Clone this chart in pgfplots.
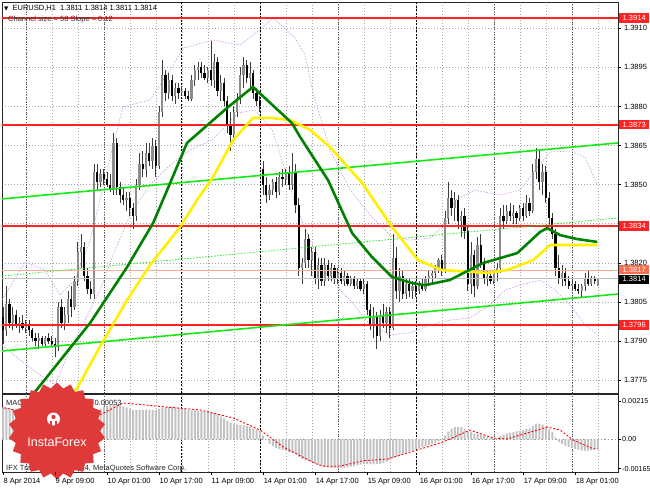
\documentclass[border=0pt]{standalone}
\usepackage{fontspec}
\setmainfont{Liberation Sans}
\newfontfamily\dejavu{DejaVu Sans}
\usepackage{pgfplots}
\usepackage{pgfplotstable}
\pgfplotsset{compat=1.18}
\usetikzlibrary{shapes.geometric}

\definecolor{mtred}{RGB}{255,35,35}
\definecolor{salmonline}{RGB}{250,175,150}
\definecolor{salmonbox}{RGB}{245,110,80}
\definecolor{tlime}{RGB}{20,235,20}
\definecolor{mag}{RGB}{0,130,0}
\definecolor{mayellow}{RGB}{255,240,0}
\definecolor{bandcol}{RGB}{205,150,235}
\definecolor{histgray}{RGB}{195,195,195}
\definecolor{instared}{RGB}{222,58,58}
\definecolor{wick}{RGB}{60,60,60}
\definecolor{bullbody}{RGB}{140,140,140}

\newcommand{\lab}{\fontsize{7.5pt}{8pt}\selectfont}

\pgfplotstableread{
idx op hi lo cl macd
0 1.3799 1.3803 1.3789 1.3794 0.00180
1 1.3794 1.3811 1.3792 1.3804 0.00178
2 1.3804 1.3806 1.3795 1.3797 0.00175
3 1.3797 1.3803 1.3794 1.3800 0.00170
4 1.3800 1.3802 1.3795 1.3796 0.00165
5 1.3796 1.3799 1.3793 1.3797 0.00160
6 1.3797 1.3800 1.3794 1.3795 0.00154
7 1.3795 1.3798 1.3793 1.3796 0.00148
8 1.3796 1.3798 1.3792 1.3794 0.00142
9 1.3794 1.3795 1.3790 1.3791 0.00135
10 1.3791 1.3793 1.3788 1.3790 0.00128
11 1.3790 1.3793 1.3787 1.3791 0.00121
12 1.3791 1.3792 1.3788 1.3789 0.00114
13 1.3789 1.3792 1.3788 1.3791 0.00108
14 1.3791 1.3793 1.3789 1.3790 0.00102
15 1.3790 1.3792 1.3788 1.3789 0.00096
16 1.3789 1.3791 1.3784 1.3788 0.00090
17 1.3788 1.3805 1.3786 1.3803 0.00092
18 1.3803 1.3806 1.3795 1.3797 0.00094
19 1.3797 1.3803 1.3794 1.3800 0.00096
20 1.3800 1.3809 1.3797 1.3806 0.00100
21 1.3806 1.3811 1.3799 1.3803 0.00104
22 1.3803 1.3815 1.3802 1.3813 0.00112
23 1.3813 1.3828 1.3811 1.3824 0.00120
24 1.3824 1.3831 1.3818 1.3826 0.00126
25 1.3826 1.3828 1.3813 1.3815 0.00128
26 1.3815 1.3818 1.3808 1.3810 0.00128
27 1.3810 1.3813 1.3806 1.3808 0.00126
28 1.3808 1.3858 1.3806 1.3855 0.00145
29 1.3855 1.3858 1.3848 1.3851 0.00160
30 1.3851 1.3856 1.3849 1.3854 0.00172
31 1.3854 1.3856 1.3850 1.3852 0.00182
32 1.3852 1.3855 1.3849 1.3850 0.00188
33 1.3850 1.3854 1.3847 1.3848 0.00190
34 1.3848 1.3870 1.3846 1.3866 0.00196
35 1.3866 1.3868 1.3846 1.3849 0.00194
36 1.3849 1.3851 1.3843 1.3846 0.00190
37 1.3846 1.3849 1.3842 1.3844 0.00184
38 1.3844 1.3847 1.3840 1.3845 0.00178
39 1.3845 1.3847 1.3838 1.3841 0.00172
40 1.3841 1.3843 1.3833 1.3838 0.00166
41 1.3838 1.3852 1.3836 1.3850 0.00164
42 1.3850 1.3862 1.3848 1.3858 0.00164
43 1.3858 1.3863 1.3853 1.3856 0.00165
44 1.3856 1.3866 1.3853 1.3862 0.00167
45 1.3862 1.3866 1.3857 1.3859 0.00166
46 1.3859 1.3868 1.3856 1.3865 0.00166
47 1.3865 1.3867 1.3853 1.3857 0.00164
48 1.3857 1.3880 1.3856 1.3878 0.00170
49 1.3878 1.3898 1.3876 1.3892 0.00178
50 1.3892 1.3894 1.3882 1.3885 0.00182
51 1.3885 1.3893 1.3883 1.3890 0.00183
52 1.3890 1.3892 1.3882 1.3884 0.00182
53 1.3884 1.3889 1.3881 1.3887 0.00180
54 1.3887 1.3889 1.3883 1.3885 0.00177
55 1.3885 1.3888 1.3884 1.3886 0.00174
56 1.3886 1.3887 1.3883 1.3884 0.00170
57 1.3884 1.3886 1.3882 1.3883 0.00165
58 1.3883 1.3892 1.3882 1.3890 0.00163
59 1.3890 1.3896 1.3888 1.3894 0.00162
60 1.3894 1.3897 1.3890 1.3895 0.00161
61 1.3895 1.3897 1.3891 1.3893 0.00159
62 1.3893 1.3896 1.3890 1.3891 0.00156
63 1.3891 1.3895 1.3889 1.3894 0.00153
64 1.3894 1.3905 1.3888 1.3890 0.00150
65 1.3890 1.3900 1.3887 1.3897 0.00146
66 1.3897 1.3899 1.3884 1.3886 0.00138
67 1.3886 1.3892 1.3882 1.3889 0.00128
68 1.3889 1.3891 1.3880 1.3882 0.00118
69 1.3882 1.3884 1.3870 1.3873 0.00104
70 1.3873 1.3878 1.3863 1.3869 0.00092
71 1.3869 1.3880 1.3867 1.3878 0.00086
72 1.3878 1.3885 1.3876 1.3883 0.00082
73 1.3883 1.3895 1.3881 1.3892 0.00080
74 1.3892 1.3899 1.3887 1.3896 0.00078
75 1.3896 1.3898 1.3889 1.3891 0.00074
76 1.3891 1.3897 1.3887 1.3893 0.00068
77 1.3893 1.3894 1.3883 1.3885 0.00062
78 1.3885 1.3887 1.3880 1.3882 0.00056
79 1.3882 1.3884 1.3878 1.3880 0.00050
80 1.3856 1.3859 1.3846 1.3850 0.00020
81 1.3850 1.3853 1.3843 1.3846 -0.00005
82 1.3846 1.3850 1.3844 1.3848 -0.00025
83 1.3848 1.3852 1.3846 1.3851 -0.00038
84 1.3851 1.3853 1.3845 1.3847 -0.00048
85 1.3847 1.3855 1.3846 1.3853 -0.00055
86 1.3853 1.3856 1.3849 1.3852 -0.00060
87 1.3852 1.3856 1.3850 1.3855 -0.00066
88 1.3855 1.3857 1.3848 1.3850 -0.00072
89 1.3850 1.3862 1.3848 1.3855 -0.00076
90 1.3855 1.3858 1.3839 1.3842 -0.00085
91 1.3842 1.3845 1.3815 1.3818 -0.00098
92 1.3818 1.3822 1.3812 1.3820 -0.00110
93 1.3820 1.3833 1.3818 1.3829 -0.00118
94 1.3829 1.3831 1.3818 1.3821 -0.00124
95 1.3821 1.3826 1.3815 1.3824 -0.00130
96 1.3824 1.3826 1.3812 1.3814 -0.00136
97 1.3814 1.3822 1.3810 1.3819 -0.00142
98 1.3819 1.3822 1.3811 1.3813 -0.00148
99 1.3813 1.3822 1.3811 1.3819 -0.00153
100 1.3819 1.3821 1.3813 1.3815 -0.00157
101 1.3815 1.3820 1.3813 1.3818 -0.00160
102 1.3818 1.3819 1.3812 1.3814 -0.00162
103 1.3814 1.3818 1.3812 1.3816 -0.00162
104 1.3816 1.3818 1.3812 1.3813 -0.00161
105 1.3813 1.3817 1.3811 1.3815 -0.00159
106 1.3815 1.3816 1.3811 1.3812 -0.00157
107 1.3812 1.3815 1.3811 1.3814 -0.00154
108 1.3814 1.3815 1.3810 1.3811 -0.00150
109 1.3811 1.3814 1.3810 1.3813 -0.00146
110 1.3813 1.3814 1.3809 1.3810 -0.00142
111 1.3810 1.3814 1.3808 1.3812 -0.00138
112 1.3812 1.3813 1.3800 1.3802 -0.00138
113 1.3802 1.3804 1.3794 1.3796 -0.00140
114 1.3796 1.3803 1.3791 1.3799 -0.00141
115 1.3799 1.3801 1.3787 1.3792 -0.00140
116 1.3792 1.3802 1.3790 1.3800 -0.00137
117 1.3800 1.3804 1.3795 1.3797 -0.00132
118 1.3797 1.3803 1.3793 1.3801 -0.00126
119 1.3801 1.3803 1.3791 1.3795 -0.00118
120 1.3795 1.3831 1.3794 1.3822 -0.00106
121 1.3822 1.3826 1.3806 1.3809 -0.00098
122 1.3809 1.3818 1.3805 1.3815 -0.00090
123 1.3815 1.3817 1.3806 1.3808 -0.00082
124 1.3808 1.3814 1.3806 1.3812 -0.00074
125 1.3812 1.3814 1.3807 1.3809 -0.00068
126 1.3809 1.3813 1.3806 1.3811 -0.00062
127 1.3811 1.3813 1.3807 1.3809 -0.00056
128 1.3809 1.3813 1.3808 1.3812 -0.00050
129 1.3812 1.3814 1.3809 1.3810 -0.00044
130 1.3810 1.3815 1.3809 1.3814 -0.00038
131 1.3814 1.3817 1.3811 1.3815 -0.00032
132 1.3815 1.3817 1.3812 1.3816 -0.00026
133 1.3816 1.3819 1.3814 1.3818 -0.00020
134 1.3818 1.3822 1.3816 1.3821 -0.00012
135 1.3821 1.3823 1.3815 1.3817 -0.00006
136 1.3817 1.3840 1.3816 1.3837 0.00020
137 1.3837 1.3851 1.3835 1.3845 0.00045
138 1.3845 1.3848 1.3838 1.3841 0.00060
139 1.3841 1.3847 1.3836 1.3844 0.00068
140 1.3844 1.3846 1.3833 1.3836 0.00070
141 1.3836 1.3840 1.3830 1.3838 0.00068
142 1.3838 1.3841 1.3829 1.3832 0.00060
143 1.3832 1.3834 1.3809 1.3812 0.00045
144 1.3812 1.3828 1.3808 1.3823 0.00040
145 1.3823 1.3825 1.3807 1.3811 0.00032
146 1.3811 1.3830 1.3810 1.3827 0.00030
147 1.3827 1.3831 1.3818 1.3820 0.00026
148 1.3820 1.3822 1.3812 1.3814 0.00020
149 1.3814 1.3817 1.3811 1.3815 0.00014
150 1.3815 1.3817 1.3812 1.3813 0.00008
151 1.3813 1.3817 1.3812 1.3816 0.00004
152 1.3816 1.3820 1.3813 1.3818 0.00002
153 1.3818 1.3841 1.3816 1.3838 0.00018
154 1.3838 1.3842 1.3833 1.3836 0.00026
155 1.3836 1.3842 1.3835 1.3840 0.00032
156 1.3840 1.3843 1.3836 1.3838 0.00036
157 1.3838 1.3842 1.3835 1.3839 0.00040
158 1.3839 1.3840 1.3835 1.3837 0.00044
159 1.3837 1.3842 1.3836 1.3841 0.00048
160 1.3841 1.3843 1.3836 1.3838 0.00052
161 1.3838 1.3846 1.3837 1.3843 0.00058
162 1.3843 1.3845 1.3838 1.3840 0.00062
163 1.3840 1.3858 1.3839 1.3855 0.00076
164 1.3855 1.3864 1.3852 1.3860 0.00088
165 1.3860 1.3863 1.3848 1.3851 0.00086
166 1.3851 1.3858 1.3846 1.3855 0.00082
167 1.3855 1.3857 1.3843 1.3845 0.00070
168 1.3845 1.3847 1.3834 1.3837 0.00056
169 1.3837 1.3839 1.3829 1.3831 0.00040
170 1.3831 1.3833 1.3815 1.3818 0.00010
171 1.3818 1.3823 1.3812 1.3814 -0.00014
172 1.3814 1.3819 1.3811 1.3816 -0.00026
173 1.3816 1.3818 1.3811 1.3813 -0.00036
174 1.3813 1.3815 1.3810 1.3811 -0.00044
175 1.3811 1.3814 1.3809 1.3812 -0.00050
176 1.3812 1.3813 1.3809 1.3810 -0.00054
177 1.3810 1.3812 1.3808 1.3809 -0.00058
178 1.3809 1.3812 1.3807 1.3811 -0.00062
179 1.3811 1.3816 1.3809 1.3814 -0.00064
180 1.3814 1.3817 1.3811 1.3812 -0.00064
181 1.3812 1.3815 1.3811 1.3814 -0.00062
182 1.3814 1.3815 1.3812 1.3813 -0.00060
183 1.3811 1.3814 1.3811 1.3814 -0.00057
}\candles

\tikzset{pbox/.style={anchor=west, inner sep=0pt, minimum width=30pt, minimum height=9.6pt, text=white, font=\lab}}

\begin{document}
\begin{tikzpicture}
\useasboundingbox (0,0) rectangle (650pt,488pt);
\fill[white] (0,0) rectangle (650pt,488pt);

% ---------------- main price panel ----------------
\begin{axis}[
  at={(2pt,95pt)}, anchor=south west, scale only axis,
  width=616pt, height=391pt,
  xmin=-0.31, xmax=189.2, ymin=1.37700, ymax=1.39201,
  axis line style={black!85, line width=0.7pt},
  ytick={1.3775,1.3790,1.3805,1.3820,1.3835,1.3850,1.3865,1.3880,1.3895,1.3910},
  yticklabels={1.3775,1.3790,1.3805,1.3820,,1.3850,1.3865,1.3880,1.3895,1.3910},
  ytick pos=right, yticklabel pos=right, tick align=outside, major tick length=3pt,
  ytick style={black, line width=0.5pt},
  yticklabel style={font=\lab, xshift=-0.5pt},
  xtick={7,15,...,183}, xticklabels={}, xtick style={draw=none},
  grid=major,
  major grid style={black!35, dash pattern=on 1pt off 2pt, line width=0.5pt},
  extra x ticks={55,79,127}, extra x tick labels={},
  extra x tick style={grid=major, major grid style={black, dash pattern=on 2pt off 1.5pt, line width=0.6pt}, tick style={draw=none}},
  scaled y ticks=false,
  colormap={candle}{color=(black) color=(bullbody)},
  point meta min=-0.00001, point meta max=0.00001,
]
\pgfplotsinvokeforeach{7,31,103,151,175}{
  \draw[black!70, dash pattern=on 1pt off 1.5pt, line width=0.5pt] (axis cs:#1,1.3770) -- (axis cs:#1,1.39201);
}
% Bollinger-type dotted envelopes
\addplot[bandcol, line width=0.6pt, dash pattern=on 1.5pt off 1.5pt] coordinates {
(-0.3,1.38057) (6.8,1.38203) (12.9,1.38172) (17.5,1.38076) (22.2,1.38134) (26.8,1.38287)
(29.8,1.38441) (33.5,1.38633) (36.9,1.38798) (45.2,1.38825) (51.4,1.38940) (55.4,1.39024)
(64.6,1.39055) (72.9,1.39036) (79.7,1.39101) (83.1,1.39140) (89.8,1.39063) (92.9,1.38998)
(95.4,1.38851) (100.6,1.38633) (106.8,1.38479) (112.9,1.38383) (119.1,1.38306) (125.2,1.38287)
(131.4,1.38295) (136.0,1.38345) (139.1,1.38441) (145.2,1.38479) (152.9,1.38460) (159.1,1.38479)
(163.7,1.38556) (168.3,1.38625) (174.5,1.38629) (179.1,1.38606) (182.8,1.38498)};
\addplot[bandcol, line width=0.6pt, dash pattern=on 1.5pt off 1.5pt] coordinates {
(-0.3,1.37884) (5.2,1.37827) (11.4,1.37769) (16,1.37731) (20.6,1.37865) (25.2,1.37980)
(29.8,1.38095) (34.5,1.38249) (39.1,1.38383) (45.2,1.38498) (51.4,1.38575) (57.5,1.38633)
(64.3,1.38671) (72.3,1.38775) (77.5,1.38786) (82.8,1.38710) (86.8,1.38556) (89.8,1.38429)
(94.5,1.38287) (100.6,1.38134) (106.8,1.38057) (112.9,1.37961) (119.1,1.37923) (125.2,1.37931)
(131.4,1.37961) (137.5,1.37980) (143.7,1.37988) (149.8,1.38038) (154.5,1.38095) (159.1,1.38114)
(165.2,1.38134) (169.8,1.38095) (174.5,1.38038) (179.1,1.37961) (182.2,1.37931)};

% candles: wicks (low to high)
\addplot[forget plot, draw=wick, line width=0.7pt,
  quiver={u=0, v=\thisrow{hi}-\thisrow{lo}, every arrow/.append style={-}}]
  table[x=idx, y=lo] {\candles};
% candle bodies (open to close), bull grey, bear black
\addplot[forget plot, line width=2.2pt,
  point meta={\thisrow{cl}-\thisrow{op}},
  quiver={u=0, v=\thisrow{cl}-\thisrow{op}, every arrow/.append style={-, draw=mapped color, line width=2.2pt}}]
  table[x=idx, y=op] {\candles};

% horizontal levels
\addplot[black!25, line width=0.8pt] coordinates {(-1,1.3814) (190,1.3814)};
\addplot[salmonline, line width=1.8pt] coordinates {(-1,1.3817) (190,1.3817)};
\addplot[mtred, line width=1.9pt] coordinates {(-1,1.3914) (190,1.3914)};
\addplot[mtred, line width=1.9pt] coordinates {(-1,1.3873) (190,1.3873)};
\addplot[mtred, line width=1.9pt] coordinates {(-1,1.3834) (190,1.3834)};
\addplot[mtred, line width=1.9pt] coordinates {(-1,1.3796) (190,1.3796)};

% regression channel
\addplot[tlime, line width=1.6pt] coordinates {(-0.31,1.38445) (189.2,1.38660)};
\addplot[tlime, line width=1.6pt] coordinates {(-0.31,1.37861) (189.2,1.38080)};
\addplot[tlime, line width=0.7pt, dash pattern=on 1.5pt off 1.5pt] coordinates {(-0.31,1.38149) (189.2,1.38372)};

% moving averages
\addplot[mayellow, line width=2.6pt] coordinates {
(20.6,1.37673) (22.8,1.37719) (29.8,1.37877) (38.2,1.38057) (45.2,1.38191) (54.5,1.38337)
(59.7,1.38441) (64.6,1.38529) (70.8,1.38671) (76.9,1.38756) (82.2,1.38756) (88.3,1.38748)
(94.5,1.38710) (100.6,1.38644) (110.5,1.38506) (119.7,1.38337) (127.7,1.38210) (135.1,1.38172)
(148.9,1.38161) (155.1,1.38172) (163.1,1.38210) (168.3,1.38268) (182.8,1.38268)};
\addplot[mag, line width=2.6pt] coordinates {
(7.7,1.37673) (10.8,1.37719) (26.8,1.37969) (38.2,1.38184) (46.2,1.38353) (50.5,1.38479)
(56.6,1.38660) (68.9,1.38794) (76.9,1.38875) (88.9,1.38736) (91.4,1.38683) (100,1.38517)
(107.4,1.38314) (113.5,1.38222) (119.7,1.38145) (125.8,1.38122) (129.8,1.38114) (137.5,1.38134)
(147.7,1.38199) (158.2,1.38237) (165.2,1.38318) (167.4,1.38333) (171.4,1.38306) (176.6,1.38291)
(182.8,1.38280)};

\coordinate (L3914) at (axis cs:189.2,1.3914);
\coordinate (L3873) at (axis cs:189.2,1.3873);
\coordinate (L3834) at (axis cs:189.2,1.3834);
\coordinate (L3817) at (axis cs:189.2,1.3817);
\coordinate (L3814) at (axis cs:189.2,1.3814);
\coordinate (L3796) at (axis cs:189.2,1.3796);
\end{axis}

% ---------------- MACD panel ----------------
\begin{axis}[
  at={(2pt,16pt)}, anchor=south west, scale only axis,
  width=616pt, height=78pt,
  xmin=-0.31, xmax=189.2, ymin=-0.001837, ymax=0.002545,
  axis line style={black!85, line width=0.7pt},
  ytick={-0.00165,0,0.00215}, yticklabels={-0.00165,0.00,0.00215},
  ytick pos=right, yticklabel pos=right, tick align=outside, major tick length=2.5pt,
  ytick style={black, line width=0.5pt},
  yticklabel style={font=\fontsize{7.2pt}{8pt}\selectfont, xshift=-1.8pt},
  scaled y ticks=false,
  xtick={7,15,...,183}, xticklabels={}, xtick style={draw=none},
  xmajorgrids=true, ymajorgrids=false,
  major grid style={black!35, dash pattern=on 1pt off 2pt, line width=0.5pt},
  extra x ticks={55,79,127}, extra x tick labels={},
  extra x tick style={grid=major, major grid style={black, dash pattern=on 2pt off 1.5pt, line width=0.6pt}, tick style={draw=none}},
  extra y ticks={0}, extra y tick labels={},
  extra y tick style={grid=major, major grid style={black!40, dash pattern=on 1.5pt off 2pt, line width=0.5pt}, tick style={draw=none}},
]
\pgfplotsinvokeforeach{7,31,103,151,175}{
  \draw[black!70, dash pattern=on 1pt off 1.5pt, line width=0.5pt] (axis cs:#1,-0.001837) -- (axis cs:#1,0.002545);
}
\addplot[ybar, bar width=2pt, fill=histgray, draw=none] table[x=idx, y=macd] {\candles};
\addplot[red, line width=0.9pt, dash pattern=on 2pt off 1.8pt] coordinates {
(-0.9,0.00181) (11.4,0.00137) (20.6,0.00097) (29.8,0.00137) (36.9,0.00204) (50.5,0.00181)
(60.6,0.00165) (70.8,0.00120) (79.1,0.00052) (86.2,-0.00043) (96.6,-0.00140) (99,-0.00152)
(104,-0.00150) (110.8,-0.00120) (118.2,-0.00111) (127.4,-0.00060) (135.4,-0.00015) (143.7,0.00052)
(150.8,0.00007) (155.1,0.00002) (161.2,0.00035) (167.4,0.00069) (171.4,0.00052) (175.4,-0.00004)
(181.5,-0.00053) (183,-0.00053)};
\pgfplotsinvokeforeach{0,16,32,48,64,80,96,112,128,144,160,176}{
  \coordinate (d#1) at (axis cs:#1,-0.001837);
}
\end{axis}

% texts on the chart
\node[anchor=base west, inner sep=0pt, font=\lab] at (4pt,477pt)
  {{\dejavu\fontsize{5.5pt}{6pt}\selectfont ▼}\ \ EURUSD,H1\ \ 1.3811 1.3814 1.3811 1.3814};
\node[anchor=base west, inner sep=0pt, font=\lab, text=black!80] at (8pt,466pt)
  {Channel size = 58 Slope = 0.12};
\node[anchor=base west, inner sep=0pt, font=\lab, text=black!85] at (6pt,83pt)
  {MACD(12,26,9) -0.00057 -0.00053};
\node[anchor=base west, inner sep=0pt, font=\lab, text=black!85] at (6pt,18pt)
  {IFX Trader, © 2001-2014, MetaQuotes Software Corp.};

% price boxes on the right scale
\node[pbox, fill=mtred] at ([xshift=1pt]L3914) {1.3914};
\node[pbox, fill=mtred] at ([xshift=1pt]L3873) {1.3873};
\node[pbox, fill=mtred] at ([xshift=1pt]L3834) {1.3834};
\node[pbox, fill=salmonbox] at ([xshift=1pt,yshift=1pt]L3817) {1.3817};
\node[pbox, fill=black] at ([xshift=1pt,yshift=-1pt]L3814) {1.3814};
\node[pbox, fill=mtred] at ([xshift=1pt]L3796) {1.3796};

% InstaForex badge
\node[star, star points=22, star point ratio=1.13, minimum size=97pt, inner sep=0pt, fill=instared] at (57pt,57pt) {};
\fill[white] (53.5pt,69pt) circle (6.5pt);
\fill[instared] (53.5pt,71pt) circle (2.2pt);
\fill[instared] (50.3pt,62pt) rectangle (52.3pt,67.5pt);
\fill[instared] (54.7pt,62pt) rectangle (56.7pt,67.5pt);
\node[text=white, font=\fontsize{12.5pt}{13pt}\selectfont, inner sep=0pt] at (57pt,46pt) {InstaForex};

% date labels
\foreach \k/\t in {0/8 Apr 2014,16/9 Apr 09:00,32/10 Apr 01:00,48/10 Apr 17:00,64/11 Apr 09:00,80/14 Apr 01:00,96/14 Apr 17:00,112/15 Apr 09:00,128/16 Apr 01:00,144/16 Apr 17:00,160/17 Apr 09:00,176/18 Apr 01:00}{
  \draw[black, line width=0.5pt] (d\k) -- ++(0,-3pt);
  \node[anchor=base west, inner sep=0pt, font=\lab] at ([xshift=0.5pt,yshift=-11pt]d\k) {\t};
}
\end{tikzpicture}
\end{document}
